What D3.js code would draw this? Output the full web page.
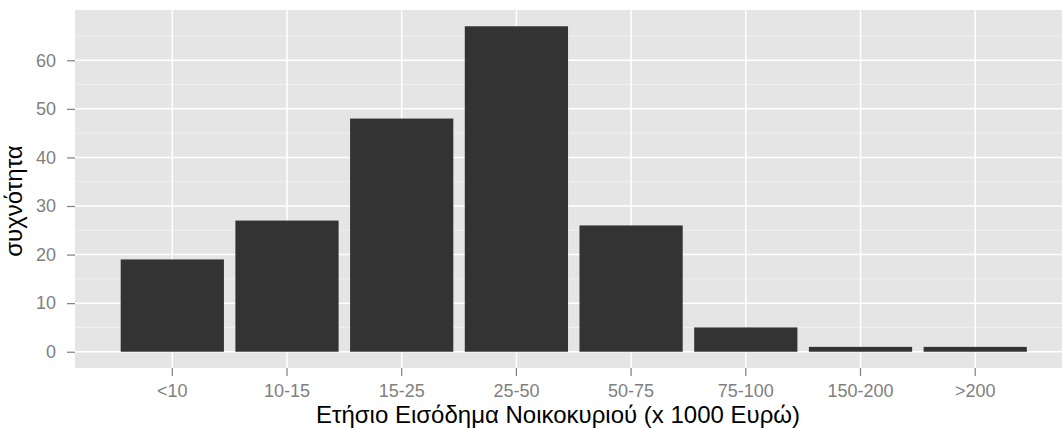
<!DOCTYPE html>
<html>
<head>
<meta charset="utf-8">
<script src="https://cdn.jsdelivr.net/npm/d3@7"></script>
<style>
  html, body { margin: 0; padding: 0; background: #fff; }
  svg { display: block; font-family: "Liberation Sans", Arial, Helvetica, sans-serif; }
</style>
</head>
<body>
<svg id="chart" width="1062" height="428"></svg>
<script>
const categories = ["<10", "10-15", "15-25", "25-50", "50-75", "75-100", "150-200", ">200"];
const counts = [19, 27, 48, 67, 26, 5, 1, 1];
const yTicks = [0, 10, 20, 30, 40, 50, 60];
const yMinor = [5, 15, 25, 35, 45, 55, 65];
const xTitle = "Ετήσιο Εισόδημα Νοικοκυριού (x 1000 Ευρώ)";
const yTitle = "συχνότητα";

const W = 1062, H = 428;
const panel = { left: 75, top: 10, right: 1062, bottom: 368 };

const svg = d3.select("#chart");

const y = d3.scaleLinear()
  .domain([-3.35, 70.35])
  .range([panel.bottom, panel.top]);

const step = 114.7;
const c0 = 172.3;
const x = d3.scaleBand()
  .domain(categories)
  .range([c0 - step / 2, c0 + (categories.length - 0.5) * step])
  .paddingInner(0.1)
  .paddingOuter(0.05);

// panel background
svg.append("rect")
  .attr("x", panel.left).attr("y", panel.top)
  .attr("width", panel.right - panel.left).attr("height", panel.bottom - panel.top)
  .attr("fill", "#E5E5E5");

const grid = svg.append("g");
grid.selectAll("line.minor").data(yMinor).enter().append("line")
  .attr("x1", panel.left).attr("x2", panel.right)
  .attr("y1", d => y(d)).attr("y2", d => y(d))
  .attr("stroke", "#F2F2F2").attr("stroke-width", 0.8);
grid.selectAll("line.majy").data(yTicks).enter().append("line")
  .attr("x1", panel.left).attr("x2", panel.right)
  .attr("y1", d => y(d)).attr("y2", d => y(d))
  .attr("stroke", "#FFFFFF").attr("stroke-width", 1.5);
grid.selectAll("line.majx").data(categories).enter().append("line")
  .attr("y1", panel.top).attr("y2", panel.bottom)
  .attr("x1", d => x(d) + x.bandwidth() / 2).attr("x2", d => x(d) + x.bandwidth() / 2)
  .attr("stroke", "#FFFFFF").attr("stroke-width", 1.5);

// bars
svg.append("g").selectAll("rect").data(categories).enter().append("rect")
  .attr("x", d => x(d))
  .attr("width", x.bandwidth())
  .attr("y", (d, i) => y(counts[i]))
  .attr("height", (d, i) => y(0) - y(counts[i]))
  .attr("fill", "#333333");

// y axis
const yAxis = svg.append("g")
  .attr("transform", `translate(${panel.left},0)`)
  .call(d3.axisLeft(y).tickValues(yTicks).tickSize(8).tickPadding(11).tickFormat(d3.format("d")));
yAxis.select(".domain").remove();
yAxis.selectAll(".tick line").attr("stroke", "#7F7F7F").attr("stroke-width", 1.2);
yAxis.selectAll(".tick text").attr("fill", "#7F7F7F").style("font-size", "18px");

// x axis
const xAxis = svg.append("g")
  .attr("transform", `translate(0,${panel.bottom})`)
  .call(d3.axisBottom(x).tickSize(8).tickPadding(8.5));
xAxis.select(".domain").remove();
xAxis.selectAll(".tick line").attr("stroke", "#7F7F7F").attr("stroke-width", 1.2);
xAxis.selectAll(".tick text").attr("fill", "#7F7F7F").style("font-size", "18px");

// titles
svg.append("text")
  .attr("x", 558).attr("y", 423)
  .attr("text-anchor", "middle")
  .style("font-size", "24px").attr("fill", "#000")
  .text(xTitle);

svg.append("text")
  .attr("transform", `translate(22,201) rotate(-90)`)
  .attr("text-anchor", "middle")
  .style("font-size", "24px").attr("fill", "#000")
  .text(yTitle);
</script>
</body>
</html>
